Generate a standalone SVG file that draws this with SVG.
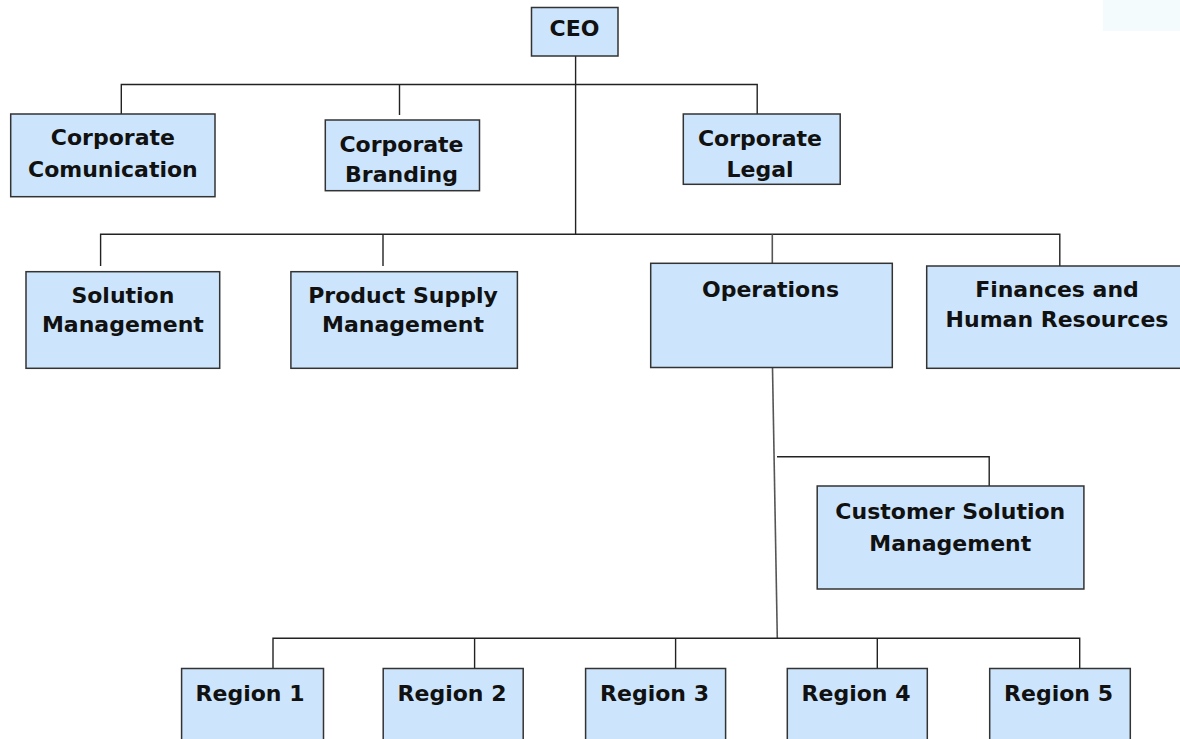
<svg xmlns="http://www.w3.org/2000/svg" width="1180" height="739" viewBox="0 0 1180 739">
<style>
.box{fill:#cce5fc;stroke:#333;stroke-width:1.5}
.t{font-family:"DejaVu Sans",Verdana,sans-serif;font-weight:bold;font-size:22px;fill:#111;text-anchor:middle}
.ln{fill:none;stroke:#222;stroke-width:1.4}
.ln2{fill:none;stroke:#555;stroke-width:1.6}
</style>
<rect x="0" y="0" width="1180" height="739" fill="#fff"/>
<rect x="1103" y="0" width="77" height="31" fill="#f4fbfd"/>
<g id="connectors">
<path class="ln" d="M575.6,56 V234.3"/>
<path class="ln" d="M121.3,114 V84.5 H757.2 V114"/>
<path class="ln" d="M399.5,84.5 V115"/>
<path class="ln" d="M100.6,266 V234.3 H1059.8 V266"/>
<path class="ln" d="M383,234.3 V266"/>
<path class="ln2" d="M772.3,234.3 V263.3"/>
<path class="ln2" d="M772.5,367.5 L777.3,638.3"/>
<path class="ln" d="M777,456.7 H989.2 V486"/>
<path class="ln" d="M273,668.5 V638.3 H1079.7 V668.5"/>
<path class="ln" d="M474.6,638.3 V668.5"/>
<path class="ln" d="M675.6,638.3 V668.5"/>
<path class="ln" d="M877.3,638.3 V668.5"/>
</g>
<g id="ceo"><rect class="box" x="531.5" y="7.5" width="86.5" height="48.5"/><text class="t" x="574.5" y="36">CEO</text></g>
<g id="corp-comm"><rect class="box" x="10.7" y="114" width="204.3" height="82.7"/><text class="t" x="112.9" y="145">Corporate</text><text class="t" x="112.9" y="176.5">Comunication</text></g>
<g id="corp-brand"><rect class="box" x="325.3" y="120" width="154.2" height="70.7"/><text class="t" x="401.5" y="151.5">Corporate</text><text class="t" x="401.5" y="181.5">Branding</text></g>
<g id="corp-legal"><rect class="box" x="683.3" y="114" width="156.9" height="70.3"/><text class="t" x="760" y="145.5">Corporate</text><text class="t" x="760" y="176.5">Legal</text></g>
<g id="solution"><rect class="box" x="26" y="271.7" width="193.7" height="96.6"/><text class="t" x="122.9" y="303.3">Solution</text><text class="t" x="122.9" y="332.3">Management</text></g>
<g id="product"><rect class="box" x="290.9" y="271.7" width="226.5" height="96.6"/><text class="t" x="403" y="303.3">Product Supply</text><text class="t" x="403" y="332.3">Management</text></g>
<g id="operations"><rect class="box" x="650.7" y="263.3" width="241.6" height="104.2"/><text class="t" x="770.5" y="296.7">Operations</text></g>
<g id="finances"><rect class="box" x="926.7" y="266" width="260" height="102.3"/><text class="t" x="1057" y="296.7">Finances and</text><text class="t" x="1057" y="327">Human Resources</text></g>
<g id="customer"><rect class="box" x="817.2" y="486" width="266.7" height="103"/><text class="t" x="950.3" y="519">Customer Solution</text><text class="t" x="950.3" y="551">Management</text></g>
<g id="region1"><rect class="box" x="181.6" y="668.5" width="141.9" height="80"/><text class="t" x="250" y="700.7">Region 1</text></g>
<g id="region2"><rect class="box" x="383.2" y="668.5" width="140" height="80"/><text class="t" x="452" y="700.7">Region 2</text></g>
<g id="region3"><rect class="box" x="585.6" y="668.5" width="140" height="80"/><text class="t" x="654.5" y="700.7">Region 3</text></g>
<g id="region4"><rect class="box" x="787.3" y="668.5" width="140" height="80"/><text class="t" x="856" y="700.7">Region 4</text></g>
<g id="region5"><rect class="box" x="989.7" y="668.5" width="140.6" height="80"/><text class="t" x="1058.5" y="700.7">Region 5</text></g>
</svg>
